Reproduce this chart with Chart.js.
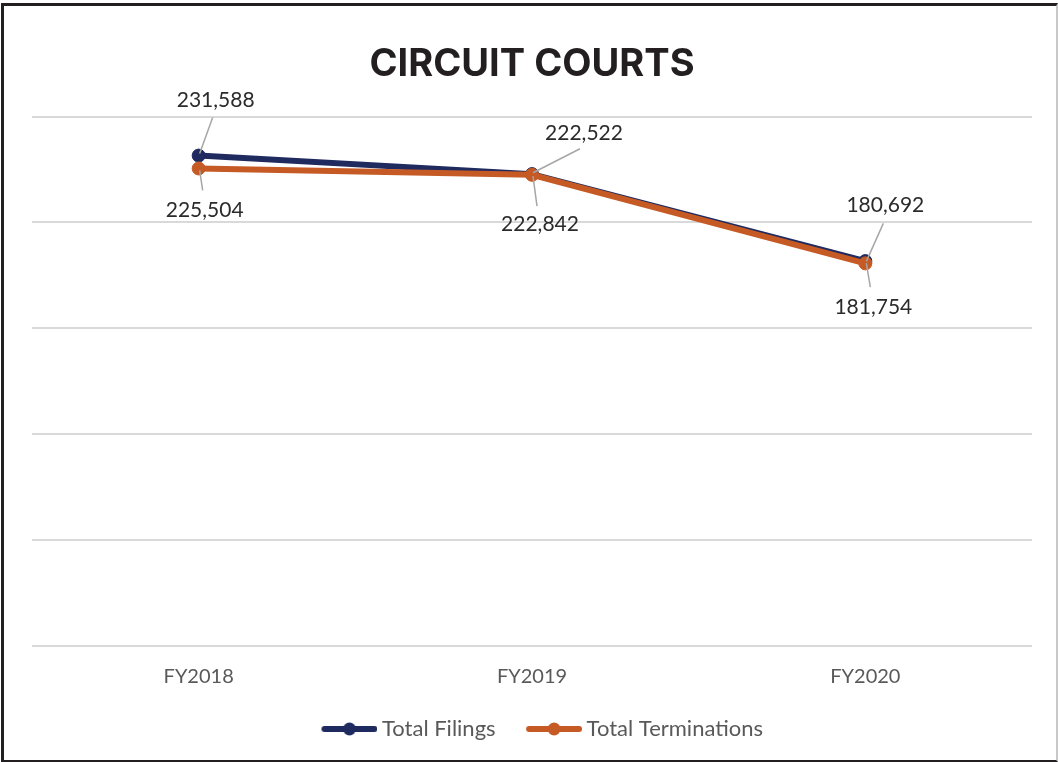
<!DOCTYPE html>
<html>
<head>
<meta charset="utf-8">
<script src="https://cdn.jsdelivr.net/npm/chart.js@4"></script>
<style>
  html, body { margin: 0; padding: 0; background: #fff; }
  #wrap { position: relative; width: 1058px; height: 762px; }
  #frame {
    position: absolute; left: 1px; top: 3px; width: 1057px; height: 759px;
    box-sizing: border-box; pointer-events: none;
    border-left: 3px solid #231f20; border-top: 3px solid #231f20;
    border-bottom: 2px solid #231f20; border-right: 2px solid #c8c8c8;
  }
</style>
</head>
<body>
<div id="wrap">
  <canvas id="chart" width="1058" height="762"></canvas>
  <div id="frame"></div>
</div>
<script>
const years = ["FY2018", "FY2019", "FY2020"];
const totalFilings = [231588, 222842, 181754];
const totalTerminations = [225504, 222522, 180692];

const navy = "#1f2a5f";
const orange = "#c55a25";

// where each value label sits, relative to its point: [labelX, labelY, leaderEndX, leaderEndY]
const filingsLabelPos = [[17, -55, 14, -38], [8, 50, 5, 32], [8, 46, 5, 26]];
const terminationsLabelPos = [[6, 42, 4, 22], [52, -42, 48, -26], [20, -58, 18, -40]];

const legendBox = 70;

// legend sample: thick line with a dot, pushed to the right end of the image
const legendIcon = (color) => {
  const c = document.createElement("canvas");
  c.width = legendBox + 13; c.height = 16;
  const ctx = c.getContext("2d");
  ctx.strokeStyle = color;
  ctx.lineWidth = 6;
  ctx.lineCap = "round";
  ctx.beginPath();
  ctx.moveTo(c.width - 53, 8); ctx.lineTo(c.width - 3, 8);
  ctx.stroke();
  ctx.fillStyle = color;
  ctx.beginPath();
  ctx.arc(c.width - 28, 8, 6.5, 0, Math.PI * 2);
  ctx.fill();
  return c;
};

const valueLabels = {
  id: "valueLabels",
  afterDatasetsDraw(chart) {
    const ctx = chart.ctx;
    const positions = [filingsLabelPos, terminationsLabelPos];
    ctx.save();
    ctx.font = "21px Lato";
    ctx.textAlign = "center";
    ctx.textBaseline = "middle";
    chart.data.datasets.forEach((ds, i) => {
      const meta = chart.getDatasetMeta(i);
      meta.data.forEach((pt, j) => {
        const [lx, ly, ex, ey] = positions[i][j];
        ctx.strokeStyle = "#a6a6a6";
        ctx.lineWidth = 1.5;
        ctx.beginPath();
        ctx.moveTo(pt.x + 1, pt.y + (ly < 0 ? -2 : 2));
        ctx.lineTo(pt.x + ex, pt.y + ey);
        ctx.stroke();
        ctx.fillStyle = "#2b2b2b";
        ctx.fillText(ds.data[j].toLocaleString("en-US"), pt.x + lx, pt.y + ly);
      });
    });
    ctx.restore();
  }
};

new Chart(document.getElementById("chart"), {
  type: "line",
  plugins: [valueLabels],
  data: {
    labels: years,
    datasets: [
      {
        label: "Total Filings",
        data: totalFilings,
        borderColor: navy,
        backgroundColor: navy,
        borderWidth: 6,
        pointRadius: 6.5,
        pointBorderWidth: 1,
        tension: 0,
        order: 1,
      },
      {
        label: "Total Terminations",
        data: totalTerminations,
        borderColor: orange,
        backgroundColor: orange,
        borderWidth: 6,
        pointRadius: 6.5,
        pointBorderWidth: 1,
        tension: 0,
        order: 0,
      },
    ],
  },
  options: {
    responsive: false,
    animation: false,
    layout: { padding: { left: 32, right: 26, top: 10, bottom: 12 } },
    plugins: {
      tooltip: { enabled: false },
      title: {
        display: true,
        text: "CIRCUIT COURTS",
        color: "#231f20",
        font: { family: "Inter", size: 38, weight: "bold" },
        padding: { top: 32, bottom: 29 },
      },
      legend: {
        position: "bottom",
        labels: {
          usePointStyle: true,
          pointStyleWidth: legendBox,
          padding: 10,
          color: "#595959",
          font: { family: "Lato", size: 22 },
          generateLabels: (chart) =>
            chart.data.datasets.map((ds, i) => ({
              text: ds.label,
              pointStyle: legendIcon(ds.borderColor),
              fontColor: "#595959",
              lineWidth: 0,
              strokeStyle: "transparent",
              fillStyle: ds.borderColor,
              datasetIndex: i,
              hidden: false,
            })),
        },
      },
    },
    scales: {
      x: {
        offset: true,
        grid: { display: false, drawTicks: false },
        border: { display: false },
        ticks: { color: "#595959", font: { family: "Lato", size: 20 }, padding: 19 },
      },
      y: {
        min: 0,
        max: 250000,
        ticks: { display: false, stepSize: 50000 },
        grid: { color: "#d9d9d9", lineWidth: 2, drawTicks: false },
        border: { display: false },
      },
    },
  },
});
</script>
</body>
</html>
